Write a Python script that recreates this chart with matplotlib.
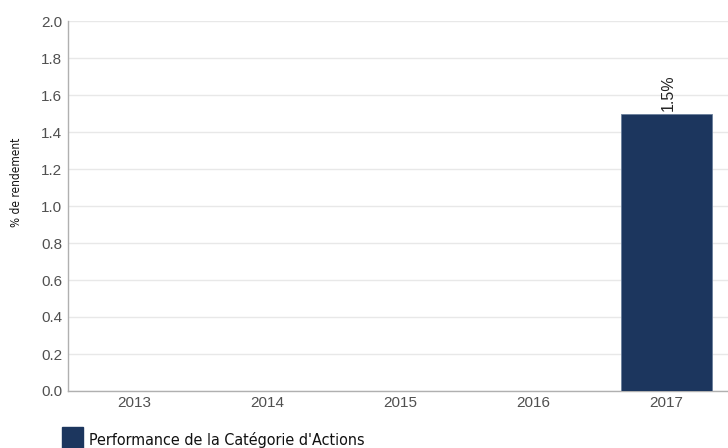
import matplotlib
matplotlib.use("Agg")
import matplotlib.pyplot as plt
from matplotlib.patches import Rectangle

# ---- data
years = ["2013", "2014", "2015", "2016", "2017"]
values = [None, None, None, None, 1.5]
labels = ["", "", "", "", "1.5%"]
y_ticks = [0.0, 0.2, 0.4, 0.6, 0.8, 1.0, 1.2, 1.4, 1.6, 1.8, 2.0]
series_name = "Performance de la Catégorie d'Actions"

bar_color = "#1c365e"
grid_color = "#e8e8e8"
axis_color = "#b0b0b0"
text_color = "#505050"

plt.rcParams["font.family"] = ["Liberation Sans", "DejaVu Sans"]

fig = plt.figure(figsize=(7.28, 4.48), dpi=100)
# the plot area runs slightly past the right edge of the picture
ax = fig.add_axes([68 / 728, 1 - 391 / 448, 665 / 728, 370 / 448])

x = list(range(len(years)))
for xi, v, lab in zip(x, values, labels):
    if v is None:
        continue
    ax.bar(xi, v, width=0.69, color=bar_color, edgecolor="#6a7f9c",
           linewidth=0.6, zorder=3)
    ax.text(xi + 0.01, v + 0.012, lab, rotation=90, ha="center", va="bottom",
            fontsize=11.5, color="#222222", zorder=4)

ax.set_xlim(-0.5, len(years) - 0.5)
ax.set_ylim(0, 2.0)
ax.set_yticks(y_ticks)
ax.set_yticklabels([f"{t:.1f}" for t in y_ticks])
ax.set_xticks(x)
ax.set_xticklabels(years)
ax.yaxis.grid(True, color=grid_color, linewidth=1, zorder=0)
ax.set_axisbelow(True)

for side in ("top", "right"):
    ax.spines[side].set_visible(False)
for side in ("left", "bottom"):
    ax.spines[side].set_color(axis_color)
    ax.spines[side].set_linewidth(1)

ax.tick_params(axis="both", length=0, labelsize=11, colors=text_color)
ax.tick_params(axis="x", pad=3.5)
ax.tick_params(axis="y", pad=4)

fig.text(17 / 728, 1 - 182 / 448, "% de rendement", rotation=90, ha="center",
         va="center", fontsize=8.5, family="DejaVu Sans", stretch="condensed",
         color="#111111")

# legend
fig.patches.append(Rectangle((62 / 728, 1 - 448 / 448), 21 / 728, 21 / 448,
                             transform=fig.transFigure, color=bar_color,
                             figure=fig))
fig.text(89 / 728, 1 - 445 / 448, series_name, ha="left", va="baseline",
         fontsize=11.5, family="DejaVu Sans", stretch="condensed",
         color="#111111")

fig.savefig("out.png", dpi=100)
